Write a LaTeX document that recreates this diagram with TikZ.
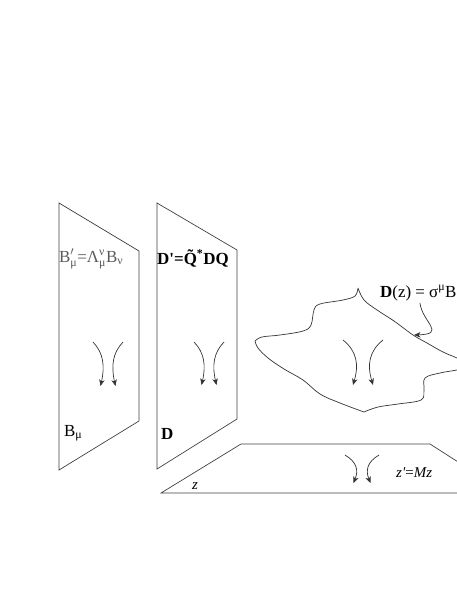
\documentclass[tikz,border=0pt]{standalone}
\usepackage{fontspec}
\usepackage{amsmath}
\setmainfont{Liberation Serif}
\usetikzlibrary{arrows.meta}
\newcommand\gtext[1]{\text{#1}}
\tikzset{
  sheet/.style  = {draw=black!75, line width=0.7pt, line join=miter},
  rim/.style    = {draw=black!80, line width=0.7pt},
  twist/.style  = {->, draw=black!80, line width=0.7pt},
  pointer/.style = {->, draw=black!80, line width=0.7pt},
  label/.style  = {inner sep=0pt, anchor=base west, font=\fontsize{17}{20}\selectfont},
  soft/.style   = {label, text=black!65}
}

\begin{document}
\begin{tikzpicture}[x=1bp, y=-1bp, >={Stealth[length=6.5pt,width=5.5pt,inset=2pt]}]
\useasboundingbox (0,0) rectangle (457,591);

% the two flat sheets
\draw[sheet] (59,203) -- (139,251) -- (139,421) -- (59,470) -- cycle;
\draw[sheet] (157,203) -- (237,250) -- (237,419) -- (157,469) -- cycle;

% the ground plane
\draw[sheet] (480,493) -- (161,493) -- (241,444) -- (430,444) -- (480,476);

% the curved sheet
\draw[rim] plot[smooth, tension=0.6] coordinates {(358,288) (355,296) (343,300) (320,304) (314,310) (311,325) (303,331) (280,335) (262,337) (255,341)}
  -- plot[smooth, tension=0.6] coordinates {(255,341) (258,348) (268,358) (284,369) (303,380) (320,394) (340,403) (364,412)}
  -- plot[smooth, tension=0.6] coordinates {(364,412) (378,407) (398,404) (421,400) (424,390) (425,378) (440,373) (457,370) (475,366)}
  -- plot[smooth, tension=0.6] coordinates {(475,366) (457,358) (443,352) (427,343) (413,335) (394,321) (377,310) (364,300) (358,288)};

% labels
\node[soft] (bprime) at (59,262) {$\gtext{B}'_{\gtext{μ}}\gtext{=}\gtext{Λ}^{\gtext{ν}}_{\gtext{μ}}\gtext{B}_{\gtext{ν}}$};
\node[label] (dprime) at (157,264) {\bfseries D\textquotesingle=\~{Q}\textsuperscript{*}DQ};
\node[label] (bmu) at (64,436) {$\gtext{B}_{\gtext{μ}}$};
\node[label] (dd) at (161,439) {\bfseries D};
\node[label, font=\fontsize{15}{18}\selectfont] (zz) at (192,489) {\textit{z}};
\node[label, font=\fontsize{15}{18}\selectfont] (zprime) at (396,477) {\textit{z\textquotesingle}=\textit{Mz}};
\node[label] (dz) at (380,297) {\textbf{D}(z) = $\gtext{σ}^{\gtext{μ}}$B};

% pointer to the curved sheet
\coordinate (tail) at (420,303);
\coordinate (edge) at (414,335);
\draw[pointer] (tail) .. controls (422,322) and (447,334) .. (edge);

% pairs of curved arrows
\foreach \cx/\cy/\w/\h in {108/342/15/44, 209/342/15/43, 363/340/20/45, 362/455/17/28}{
  \draw[twist] (\cx-\w,\cy) .. controls +(0.7*\w,0.25*\h) and +(0.3*\w,-0.45*\h) .. (\cx-0.5*\w,\cy+\h);
  \draw[twist] (\cx+\w,\cy) .. controls +(-0.7*\w,0.25*\h) and +(-0.3*\w,-0.45*\h) .. (\cx+0.5*\w,\cy+\h);
}

\end{tikzpicture}
\end{document}
